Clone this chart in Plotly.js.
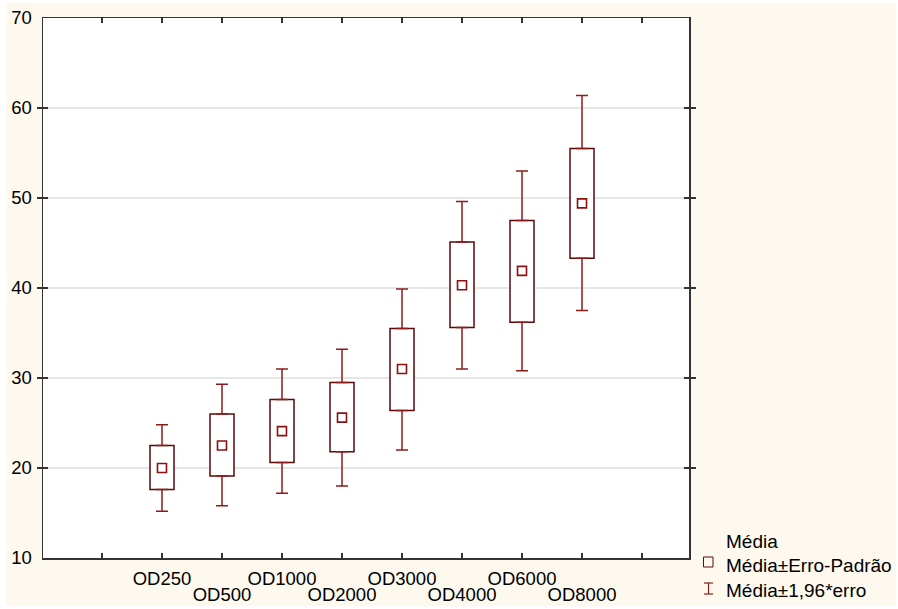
<!DOCTYPE html>
<html>
<head>
<meta charset="utf-8">
<script src="https://cdn.plot.ly/plotly-3.0.1.min.js"></script>
<style>html,body{margin:0;padding:0;background:#fff;}#chart{width:898px;height:609px;}</style>
</head>
<body>
<div id="chart"></div>
<script>
// ---- data ----
const categories = ['OD250','OD500','OD1000','OD2000','OD3000','OD4000','OD6000','OD8000'];
const meanVal  = [20.0, 22.5, 24.1, 25.6, 31.0, 40.3, 41.9, 49.4];
const seLow    = [17.6, 19.1, 20.6, 21.8, 26.4, 35.6, 36.2, 43.3];
const seHigh   = [22.5, 26.0, 27.6, 29.5, 35.5, 45.1, 47.5, 55.5];
const ciLow    = [15.2, 15.8, 17.2, 18.0, 22.0, 31.0, 30.8, 37.5];
const ciHigh   = [24.8, 29.3, 31.0, 33.2, 39.9, 49.6, 53.0, 61.4];
const legendLabels = ['Média', 'Média±Erro-Padrão', 'Média±1,96*erro'];

// ---- layout geometry ----
const W = 898, H = 609;
const L = 43, R = 689, T = 18, B = 558;
const px = x => (x - L) / (R - L);
const py = y => (B - y) / (B - T);
const XR = [-1.983, 8.783];

const xs = categories.map((c, i) => i);
const tickvals = [-1].concat(xs, [categories.length]);
const ticktextTop = [''].concat(categories.map((c, i) => (i % 2 ? '' : c)), ['']);
const oddIdx = xs.filter(i => i % 2);
const oddText = oddIdx.map(i => categories[i]);

const boxCol = '#5a0808';
const whiskCol = '#8e1b1b';
const meanCol = '#8b1010';
const FONT = {family: 'Liberation Sans, Arial, sans-serif', size: 18.5, color: '#000'};

const traces = [
  { // boxes: mean ± SE
    type: 'bar', x: xs, base: seLow,
    y: seHigh.map((v, i) => v - seLow[i]),
    width: 0.4,
    marker: {color: '#ffffff', line: {color: boxCol, width: 1.5}},
    hoverinfo: 'skip', showlegend: false
  },
  { // upper whiskers
    type: 'scatter', mode: 'markers', x: xs, y: seHigh,
    marker: {size: 1, opacity: 0},
    error_y: {type: 'data', symmetric: false,
      array: ciHigh.map((v, i) => v - seHigh[i]),
      arrayminus: seHigh.map(() => 0),
      width: 6, thickness: 1.5, color: whiskCol},
    hoverinfo: 'skip', showlegend: false
  },
  { // lower whiskers (drawn on the second-row label axis, same scale)
    type: 'scatter', mode: 'markers', x: xs, y: seLow, xaxis: 'x2',
    marker: {size: 1, opacity: 0},
    error_y: {type: 'data', symmetric: false,
      array: seLow.map(() => 0),
      arrayminus: seLow.map((v, i) => v - ciLow[i]),
      width: 6, thickness: 1.5, color: whiskCol},
    hoverinfo: 'skip', showlegend: false
  },
  { // means
    type: 'scatter', mode: 'markers', x: xs, y: meanVal,
    marker: {symbol: 'square-open', size: 9, color: meanCol, line: {width: 1.6, color: meanCol}},
    showlegend: false
  }
];

const shapes = [
  {type: 'rect', xref: 'paper', yref: 'paper', layer: 'below',
   x0: px(6), x1: px(896), y0: py(606), y1: py(3),
   fillcolor: '#fdf9ee', line: {width: 0}},
  {type: 'rect', xref: 'paper', yref: 'paper', layer: 'below',
   x0: 0, x1: 1, y0: 0, y1: 1, fillcolor: '#ffffff', line: {width: 0}},
  // legend symbols
  {type: 'rect', xref: 'paper', yref: 'paper',
   x0: px(703.5), x1: px(713), y0: py(567), y1: py(557),
   fillcolor: 'rgba(0,0,0,0)', line: {color: boxCol, width: 1}},
  {type: 'line', xref: 'paper', yref: 'paper',
   x0: px(708.5), x1: px(708.5), y0: py(594), y1: py(583), line: {color: whiskCol, width: 1.2}},
  {type: 'line', xref: 'paper', yref: 'paper',
   x0: px(704), x1: px(713), y0: py(583), y1: py(583), line: {color: whiskCol, width: 1.2}},
  {type: 'line', xref: 'paper', yref: 'paper',
   x0: px(704), x1: px(713), y0: py(594), y1: py(594), line: {color: whiskCol, width: 1.2}}
];

const legendY = [541, 565, 590];
const annotations = legendLabels.map((t, i) => ({
  text: t, xref: 'paper', yref: 'paper', x: px(724), y: py(legendY[i]),
  xanchor: 'left', yanchor: 'middle', showarrow: false,
  font: {family: FONT.family, size: 19, color: '#000'}
}));

const layout = {
  width: W, height: H,
  margin: {l: L, r: W - R, t: T, b: H - B, pad: 0},
  paper_bgcolor: '#ffffff', plot_bgcolor: '#ffffff',
  font: FONT,
  showlegend: false,
  barmode: 'overlay',
  xaxis: {
    range: XR, tickmode: 'array', tickvals: tickvals, ticktext: ticktextTop,
    tickangle: 0, automargin: false,
    ticks: 'inside', ticklen: 5, tickwidth: 1.2, tickcolor: '#333',
    showline: true, linecolor: '#333', linewidth: 1.5, mirror: 'allticks',
    showgrid: false, zeroline: false, tickfont: FONT, ticklabelstandoff: 3
  },
  xaxis2: {
    overlaying: 'x', side: 'bottom', anchor: 'y',
    range: XR, tickmode: 'array', tickvals: oddIdx, ticktext: oddText,
    tickangle: 0, automargin: false, ticks: '', showline: false,
    showgrid: false, zeroline: false, tickfont: FONT, ticklabelstandoff: 23
  },
  yaxis: {
    range: [10, 70], tickmode: 'linear', tick0: 10, dtick: 10, automargin: false,
    ticks: 'inside', ticklen: 5, tickwidth: 1.2, tickcolor: '#333',
    showline: true, linecolor: '#333', linewidth: 1.5, mirror: 'allticks',
    showgrid: true, gridcolor: '#e6e6e6', gridwidth: 1.5, zeroline: false,
    tickfont: FONT, ticklabelstandoff: 6
  },
  shapes: shapes,
  annotations: annotations
};

Plotly.newPlot('chart', traces, layout, {staticPlot: true, displayModeBar: false});
</script>
</body>
</html>
